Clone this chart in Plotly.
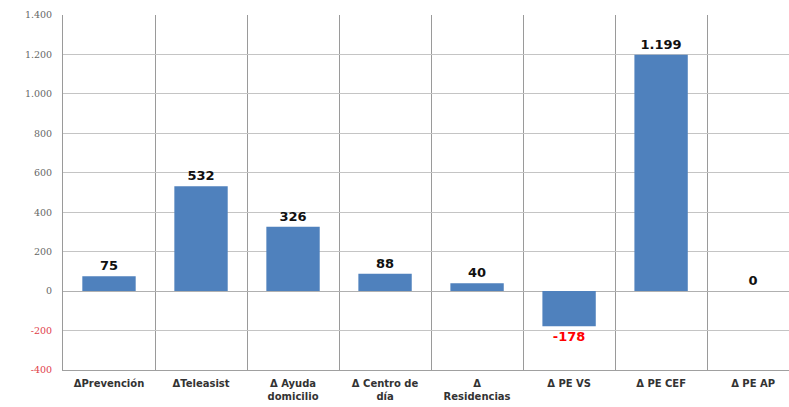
import plotly.graph_objects as go

categories = [
    "ΔPrevención",
    "ΔTeleasist",
    "Δ Ayuda<br>domicilio",
    "Δ Centro de<br>día",
    "Δ<br>Residencias",
    "Δ PE VS",
    "Δ PE CEF",
    "Δ PE AP",
]
values = [75, 532, 326, 88, 40, -178, 1199, 0]
y_ticks = [-400, -200, 0, 200, 400, 600, 800, 1000, 1200, 1400]

BAR_BLUE = "#4f81bd"
NEG_RED = "#ff0000"


def tick_label(v):
    s = f"{v:,}".replace(",", ".")
    if v < 0:
        return f'<span style="color:#e0404a">{s}</span>'
    return s


fig = go.Figure(
    go.Bar(
        x=categories,
        y=values,
        marker=dict(color=BAR_BLUE, line=dict(width=0)),
        width=0.58,
        texttemplate="%{y:,}",
        textposition="outside",
        cliponaxis=False,
        textfont=dict(
            family="DejaVu Sans",
            size=13,
            weight="bold",
            color=[NEG_RED if v < 0 else "#111111" for v in values],
        ),
    )
)

fig.update_xaxes(
    range=[-0.5, 7.39],
    tickson="boundaries",
    showgrid=True,
    gridcolor="#9a9a9a",
    gridwidth=1,
    ticks="",
    showline=True,
    linecolor="#a0a0a0",
    ticklabelstandoff=4,
    tickfont=dict(family="DejaVu Sans", size=10, weight="bold", color="#333333"),
)
fig.update_yaxes(
    range=[-400, 1400],
    tickvals=y_ticks,
    ticktext=[tick_label(v) for v in y_ticks],
    showgrid=True,
    gridcolor="#c4c4c4",
    zeroline=True,
    zerolinecolor="#b0b0b0",
    zerolinewidth=1,
    showline=True,
    linecolor="#9a9a9a",
    ticks="",
    ticklabelstandoff=8,
    tickfont=dict(family="DejaVu Serif", size=9.5, color="#666666"),
)
fig.update_layout(
    width=789,
    height=407,
    margin=dict(l=63, r=0, t=15, b=37),
    separators=",.",
    plot_bgcolor="white",
    paper_bgcolor="white",
    showlegend=False,
    bargap=0.42,
)

# the page's default body margin shifts the figure; remove it
fig.write_html(
    "out.html",
    config={"displayModeBar": False},
    post_script="document.body.style.margin='0';document.body.style.overflow='hidden';",
)
